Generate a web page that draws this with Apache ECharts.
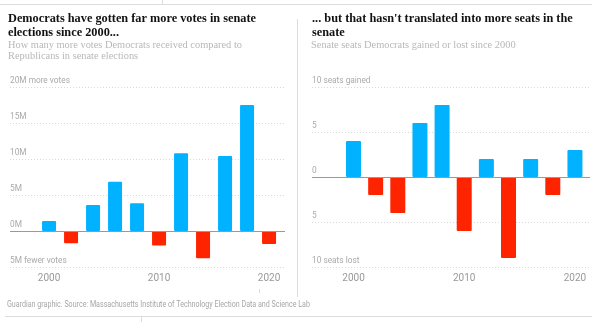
<!DOCTYPE html>
<html>
<head>
<meta charset="utf-8">
<script src="https://cdn.jsdelivr.net/npm/echarts@6/dist/echarts.min.js"></script>
<style>html,body{margin:0;padding:0;background:#fff}#c{width:600px;height:322px}</style>
</head>
<body>
<div id="c"></div>
<script>
// Data
var years = [2000, 2002, 2004, 2006, 2008, 2010, 2012, 2014, 2016, 2018, 2020];
var voteMargin = [1.4, -1.7, 3.6, 6.85, 3.85, -2.0, 10.8, -3.8, 10.4, 17.5, -1.8]; // millions
var seatChange = [4, -2, -4, 6, 8, -6, 2, -9, 2, -2, 3];
var xTickLabels = [2000, 2010, 2020];
var voteTickLabels = {'20': '20M more votes', '15': '15M', '10': '10M', '5': '5M', '0': '0M', '-5': '5M fewer votes'};
var seatTickLabels = {'10': '10 seats gained', '5': '5', '0': '0', '-5': '5', '-10': '10 seats lost'};

var BLUE = '#00b2ff', RED = '#ff2400';
var SANS = 'Roboto, sans-serif';
var SERIF = '"Liberation Serif", serif';

function pairs(v) { return years.map(function (y, i) { return [y, v[i]]; }); }
function colorFn(p) { return p.value[1] >= 0 ? BLUE : RED; }

function xAx(idx, min, max) {
  return {
    type: 'value', gridIndex: idx, min: min, max: max,
    axisLine: {show: false}, axisTick: {show: false}, splitLine: {show: false},
    axisLabel: {customValues: xTickLabels, color: '#999', fontFamily: SANS, fontSize: 10, margin: 6,
      formatter: function (v) { return String(v); }}
  };
}
function yAx(idx, min, max, map) {
  return {
    type: 'value', gridIndex: idx, min: min, max: max, interval: 5,
    axisLine: {show: false}, axisTick: {show: false},
    splitLine: {lineStyle: {color: '#d9d9d9', type: [1, 2], width: 1}},
    axisLabel: {inside: true, margin: 0, verticalAlign: 'bottom', align: 'left', padding: [0, 0, 2, 0],
      color: '#aaa', fontFamily: SANS, fontSize: 8.3,
      formatter: function (v) { return map[String(v)] || ''; }}
  };
}
function zeroLine() {
  return {silent: true, symbol: 'none', label: {show: false},
    lineStyle: {color: '#999', type: 'solid', width: 1}, data: [{yAxis: 0}]};
}

var chart = echarts.init(document.getElementById('c'), null, {renderer: 'canvas'});
chart.setOption({
  animation: false,
  grid: [
    {left: 10, right: 315, top: 87, height: 180},
    {left: 312, right: 10, top: 87, height: 180}
  ],
  xAxis: [xAx(0, 1996.45, 2021.45), xAx(1, 1996.25, 2021.36)],
  yAxis: [yAx(0, -5, 20, voteTickLabels), yAx(1, -10, 10, seatTickLabels)],
  series: [
    {type: 'bar', xAxisIndex: 0, yAxisIndex: 0, data: pairs(voteMargin), barWidth: 14,
      itemStyle: {color: colorFn, borderRadius: 1}, markLine: zeroLine()},
    {type: 'bar', xAxisIndex: 1, yAxisIndex: 1, data: pairs(seatChange), barWidth: 15,
      itemStyle: {color: colorFn, borderRadius: 1}, markLine: zeroLine()}
  ],
  graphic: [
    {type: 'line', shape: {x1: 0, y1: 4.5, x2: 592, y2: 4.5}, style: {stroke: '#dcdcdc', lineWidth: 1}},
    {type: 'line', shape: {x1: 162.5, y1: 0, x2: 162.5, y2: 4}, style: {stroke: '#dcdcdc', lineWidth: 1}},
    {type: 'line', shape: {x1: 297.5, y1: 19, x2: 297.5, y2: 297}, style: {stroke: '#dcdcdc', lineWidth: 1}},
    {type: 'line', shape: {x1: 5, y1: 316.5, x2: 592, y2: 316.5}, style: {stroke: '#dcdcdc', lineWidth: 1}},
    {type: 'line', shape: {x1: 259.5, y1: 289, x2: 259.5, y2: 293}, style: {stroke: '#dcdcdc', lineWidth: 1}},
    {type: 'line', shape: {x1: 141.5, y1: 317, x2: 141.5, y2: 322}, style: {stroke: '#dcdcdc', lineWidth: 1}},
    {type: 'text', x: 8, y: 12, style: {text: 'Democrats have gotten far more votes in senate\nelections since 2000...',
      font: 'bold 12.3px ' + SERIF, fill: '#121212', lineHeight: 14, verticalAlign: 'top'}},
    {type: 'text', x: 8, y: 40, style: {text: 'How many more votes Democrats received compared to\nRepublicans in senate elections',
      font: '10.4px ' + SERIF, fill: '#b8b8b8', lineHeight: 11, verticalAlign: 'top'}},
    {type: 'text', x: 312, y: 12, style: {text: "... but that hasn't translated into more seats in the\nsenate",
      font: 'bold 12.3px ' + SERIF, fill: '#121212', lineHeight: 14, verticalAlign: 'top'}},
    {type: 'text', x: 311, y: 40, style: {text: 'Senate seats Democrats gained or lost since 2000',
      font: '10.4px ' + SERIF, fill: '#b8b8b8', lineHeight: 11, verticalAlign: 'top'}},
    {type: 'text', x: 7, y: 300, scaleX: 0.79, style: {text: 'Guardian graphic. Source: Massachusetts Institute of Technology Election Data and Science Lab',
      font: '9px ' + SANS, fill: '#a6a6a6', verticalAlign: 'top'}}
  ]
});
</script>
</body>
</html>
